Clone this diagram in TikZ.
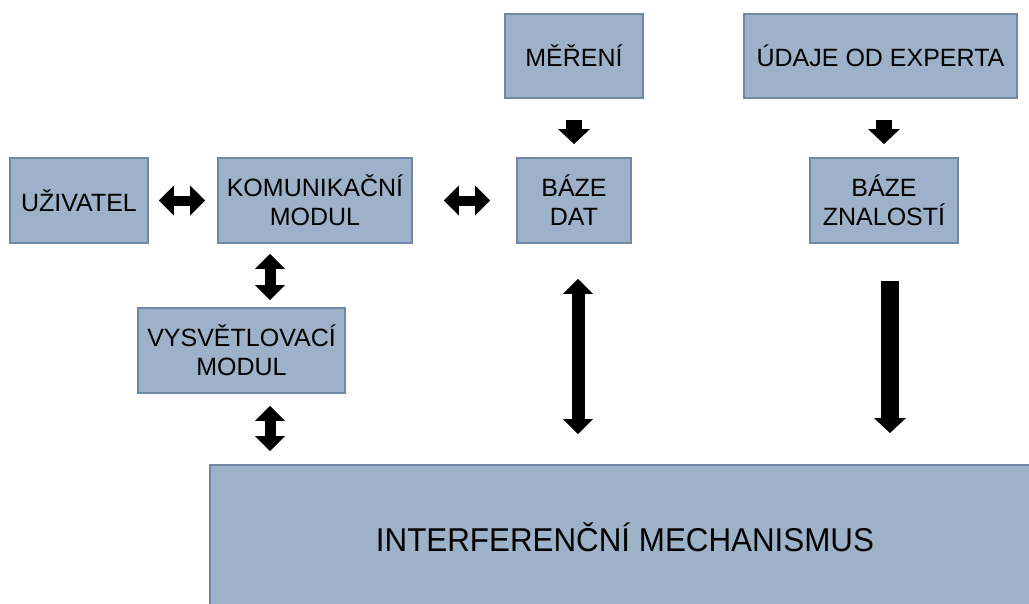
\documentclass[tikz,border=0pt]{standalone}
\usepackage{fontspec}
\setmainfont{Liberation Sans}
\newfontfamily\mechfont[FakeStretch=0.95]{Liberation Sans}
\usetikzlibrary{arrows.meta}
\definecolor{boxfill}{RGB}{157,177,200}
\definecolor{boxline}{RGB}{112,136,164}

\begin{document}
\begin{tikzpicture}[x=1pt, y=-1pt,
    box/.style 2 args={draw=boxline, fill=boxfill, line width=1.8pt, inner sep=0pt,
        minimum width=#1pt, minimum height=#2pt, align=center,
        font=\fontsize{25}{29}\selectfont},
    dblarrow/.style={line width=#1pt,
        {Triangle[width=29pt,length=15pt]}-{Triangle[width=29pt,length=15pt]}},
    downarrow/.style={line width=#1pt, -{Triangle[width=31pt,length=15pt]}}]

            \useasboundingbox (0,0) rectangle (1029,603);

            \draw(79,200.5) node[box={138}{85}] (uziv) {UŽIVATEL};
            \draw(315,200.5) node[box={194}{85}] (komun) {KOMUNIKAČNÍ\\MODUL};
            \draw(574,56) node[box={138}{84}] (mereni) {MĚŘENÍ};
            \draw(574,200.5) node[box={114}{85}] (bazedat) {BÁZE\\DAT};
            \draw(880.5,56) node[box={273}{84}] (udaje) {ÚDAJE OD EXPERTA};
            \draw(884,200.5) node[box={148}{85}] (bazezn) {BÁZE\\ZNALOSTÍ};
            \draw(241.5,350.5) node[box={207}{85}] (vysvet) {VYSVĚTLOVACÍ\\MODUL};
            \draw(625,537) node[box={830}{144}, font=\mechfont\fontsize{33}{38}\selectfont] (mech) {INTERFERENČNÍ MECHANISMUS};

            \draw[dblarrow=10, shorten <=10pt, shorten >=12pt] (uziv.east) -- (komun.west);
            \draw[dblarrow=10, shorten <=31pt, shorten >=26pt] (komun.east) -- (bazedat.west);
            \draw[dblarrow=11, shorten <=10pt, shorten >=7pt] ([xshift=-45pt]komun.south) -- ([xshift=-45pt]komun.south |- vysvet.north);
            \draw[dblarrow=11, shorten <=12pt, shorten >=13pt] ([xshift=28.5pt]vysvet.south) -- ([xshift=28.5pt]vysvet.south |- mech.north);
            \draw[downarrow=16, shorten <=21pt, shorten >=13pt] (mereni.south) -- (bazedat.north);
            \draw[downarrow=16, shorten <=21pt, shorten >=13pt] (udaje.south -| bazezn.north) -- (bazezn.north);
            \draw[dblarrow=13, shorten <=35pt, shorten >=30pt] ([xshift=4pt]bazedat.south) -- ([xshift=4pt]bazedat.south |- mech.north);
            \draw[downarrow=18, shorten <=37pt, shorten >=31pt] ([xshift=6pt]bazezn.south) -- ([xshift=6pt]bazezn.south |- mech.north);

        \end{tikzpicture}
\end{document}
